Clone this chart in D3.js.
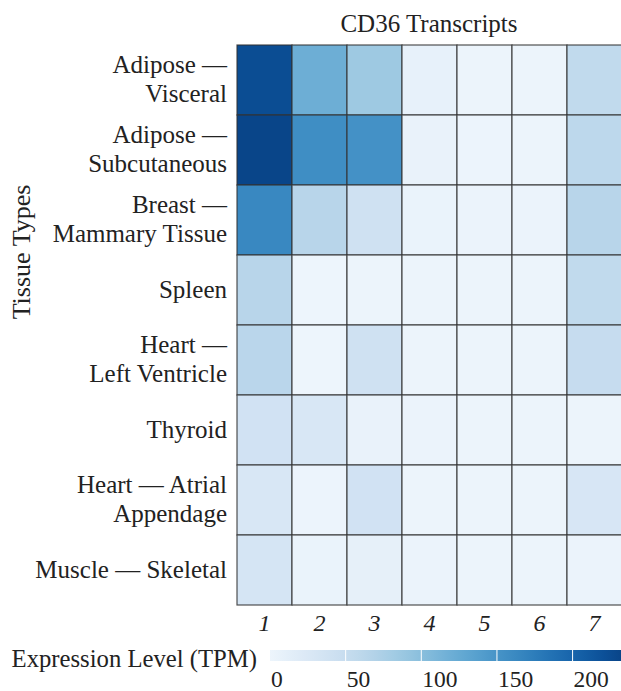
<!DOCTYPE html>
<html>
<head>
<meta charset="utf-8">
<script src="https://cdn.jsdelivr.net/npm/d3@7"></script>
<style>
  html, body { margin: 0; padding: 0; background: #fff; }
  svg { display: block; }
</style>
</head>
<body>
<svg id="chart" width="621" height="691"></svg>
<script>
const tissues = [
  ["Adipose —", "Visceral"],
  ["Adipose —", "Subcutaneous"],
  ["Breast —", "Mammary Tissue"],
  ["Spleen"],
  ["Heart —", "Left Ventricle"],
  ["Thyroid"],
  ["Heart — Atrial", "Appendage"],
  ["Muscle — Skeletal"]
];
const transcripts = ["1", "2", "3", "4", "5", "6", "7"];
// TPM values per tissue (rows) x transcript (columns)
const adiposeVisceral     = [224, 120, 85, 8, 2, 2, 56];
const adiposeSubcutaneous = [232, 157, 153, 6, 1, 2, 60];
const breastMammary       = [163, 64, 40, 4, 3, 3, 64];
const spleen              = [64, 0, 2, 2, 2, 2, 56];
const heartLeftVentricle  = [62, 0, 40, 2, 2, 2, 50];
const thyroid             = [38, 28, 6, 3, 2, 2, 2];
const heartAtrial         = [28, 1, 38, 2, 2, 2, 30];
const muscleSkeletal      = [32, 4, 10, 3, 2, 2, 3];
const values = [adiposeVisceral, adiposeSubcutaneous, breastMammary, spleen,
                heartLeftVentricle, thyroid, heartAtrial, muscleSkeletal];
const legendTicks = [0, 50, 100, 150, 200];
const title = "CD36 Transcripts";
const yTitle = "Tissue Types";
const legendTitle = "Expression Level (TPM)";

const FONT = "'Liberation Serif', 'Times New Roman', Times, 'DejaVu Serif', serif";
const svg = d3.select("#chart")
  .attr("font-family", FONT)
  .style("font-family", FONT);
const gLeft = 237, gRight = 622, gTop = 45, gBottom = 605;

const x = d3.scaleBand().domain(transcripts).range([gLeft, gRight]);
const y = d3.scaleBand().domain(d3.range(tissues.length)).range([gTop, gBottom]);
const vmax = d3.max(values.flat());
const color = d3.scaleSequential(t => d3.interpolateBlues(0.05 + 0.87 * t)).domain([0, vmax]);

const cells = [];
values.forEach((row, i) => row.forEach((v, j) => cells.push({i, j, v})));

svg.append("g").selectAll("rect").data(cells).join("rect")
  .attr("x", d => x(transcripts[d.j]))
  .attr("y", d => y(d.i))
  .attr("width", x.bandwidth())
  .attr("height", y.bandwidth())
  .attr("fill", d => color(d.v))
  .attr("stroke", "#333")
  .attr("stroke-opacity", 0.85)
  .attr("stroke-width", 1.2);

function txt(sel) {
  return sel.attr("font-family", FONT).style("font-family", FONT).attr("fill", "#222");
}

// title
txt(svg.append("text")).attr("x", (gLeft + 621) / 2).attr("y", 32)
  .attr("text-anchor", "middle").attr("font-size", 25).text(title);

// row labels
const rowG = svg.append("g");
tissues.forEach((lines, i) => {
  const cy = y(i) + y.bandwidth() / 2;
  const t = txt(rowG.append("text")).attr("text-anchor", "end").attr("font-size", 25);
  if (lines.length === 1) {
    t.append("tspan").attr("x", 227).attr("y", cy + 8).text(lines[0]);
  } else {
    t.append("tspan").attr("x", 227).attr("y", cy - 7).text(lines[0]);
    t.append("tspan").attr("x", 227).attr("y", cy + 22).text(lines[1]);
  }
});

// column labels
txt(svg.append("g").selectAll("text").data(transcripts).join("text"))
  .attr("x", d => x(d) + x.bandwidth() / 2)
  .attr("y", 631)
  .attr("text-anchor", "middle")
  .attr("font-size", 24)
  .attr("font-style", "italic")
  .text(d => d);

// y title
txt(svg.append("text")).attr("transform", "translate(30,252) rotate(-90)")
  .attr("text-anchor", "middle").attr("font-size", 26).text(yTitle);

// legend
const lx = d3.scaleLinear().domain([0, vmax]).range([270, 621]);
const defs = svg.append("defs");
const grad = defs.append("linearGradient").attr("id", "lg").attr("x1", "0%").attr("x2", "100%");
d3.range(0, 1.0001, 0.05).forEach(t => {
  grad.append("stop").attr("offset", (t * 100) + "%").attr("stop-color", color(t * vmax));
});
svg.append("rect").attr("x", lx(0)).attr("y", 650).attr("width", lx(vmax) - lx(0)).attr("height", 11)
  .attr("fill", "url(#lg)");
svg.append("g").selectAll("line").data(legendTicks.filter(d => d > 0)).join("line")
  .attr("x1", d => lx(d)).attr("x2", d => lx(d))
  .attr("y1", 650).attr("y2", 661)
  .attr("stroke", "#fff").attr("stroke-width", 1);
txt(svg.append("g").selectAll("text").data(legendTicks).join("text"))
  .attr("x", d => lx(d) + 1)
  .attr("y", 687)
  .attr("text-anchor", "start")
  .attr("font-size", 23.5)
  .text(d => d);
txt(svg.append("text")).attr("x", 257).attr("y", 667).attr("text-anchor", "end")
  .attr("font-size", 24.7).text(legendTitle);
</script>
</body>
</html>
